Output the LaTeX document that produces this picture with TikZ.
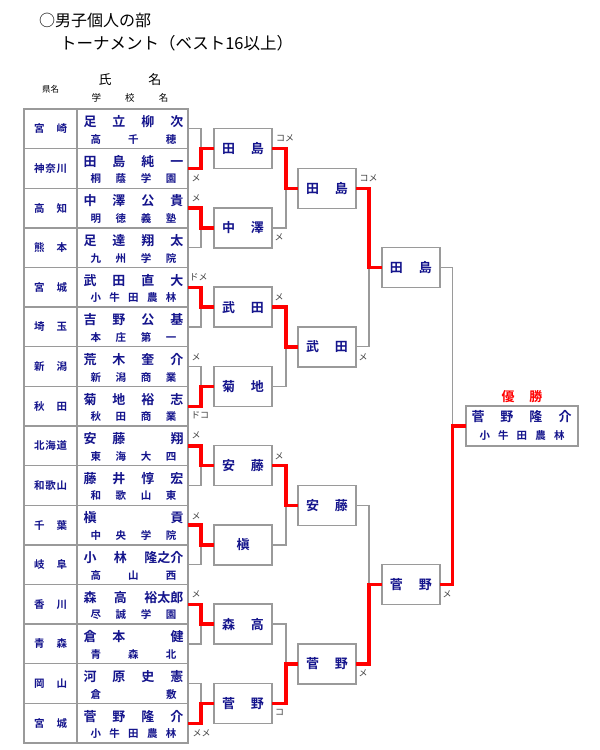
\documentclass[tikz,border=0pt]{standalone}
\usepackage{fontspec}
\setmainfont{Noto Sans CJK JP}[BoldFont={Noto Sans CJK JP Bold}]
\definecolor{ink}{HTML}{14148C}
\definecolor{rule}{HTML}{9A9A9A}

\begin{document}
\begin{tikzpicture}[x=1pt,y=-1pt,
  every node/.style={inner sep=0pt,outer sep=0pt},
  row/.style={draw=rule,line width=1.2pt,minimum width=164pt,minimum height=39.625pt},
  box/.style={draw=rule,line width=1.4pt,minimum width=58pt,minimum height=40pt},
  pref/.style={text=ink,font=\bfseries\fontsize{10.5}{10.5}\selectfont},
  plyr/.style={text=ink,font=\bfseries\fontsize{13}{13}\selectfont},
  school/.style={text=ink,font=\bfseries\fontsize{10.5}{10.5}\selectfont},
  pts/.style={text=black!75,font=\fontsize{9}{9}\selectfont},
  lose/.style={draw=rule,line width=1.3pt},
  win/.style={draw=red,line width=3.4pt}]
\fill[white] (0,0) rectangle (600,750);
\useasboundingbox (0,0) rectangle (600,750);
\node[anchor=west,font=\fontsize{16}{16}\selectfont] (title) at (39,20) {○男子個人の部};
\node[anchor=west,font=\fontsize{16.5}{16.5}\selectfont] (sub) at (60,43) {トーナメント（ベスト16以上）};
\node[font=\fontsize{8.5}{8.5}\selectfont] (hpref) at (50.5,89) {県名};
\node[font=\fontsize{13}{13}\selectfont] (hname) at (130,80) {\makebox[63pt]{氏\hfill 名}};
\node[font=\fontsize{9.5}{9.5}\selectfont] (hschool) at (130,98) {\makebox[77pt]{学\hfill 校\hfill 名}};

\node[row] (r1) at (106,128.8) {};\node[pref] (p1) at (50.7,128.8) {\makebox[33pt]{宮\hfill 崎}};
\node[plyr] (n1) at (133.5,121.7) {\makebox[100pt]{足\hfill 立\hfill 柳\hfill 次}};\node[school] (s1) at (133.5,139.3) {\makebox[86pt]{高\hfill 千\hfill 穂}};
\node[row] (r2) at (106,168.4) {};\node[pref] (p2) at (50.7,168.4) {\makebox[33pt]{神\hfill 奈\hfill 川}};
\node[plyr] (n2) at (133.5,161.3) {\makebox[100pt]{田\hfill 島\hfill 純\hfill 一}};\node[school] (s2) at (133.5,178.9) {\makebox[86pt]{桐\hfill 蔭\hfill 学\hfill 園}};
\node[row] (r3) at (106,208.1) {};\node[pref] (p3) at (50.7,208.1) {\makebox[33pt]{高\hfill 知}};
\node[plyr] (n3) at (133.5,201.0) {\makebox[100pt]{中\hfill 澤\hfill 公\hfill 貴}};\node[school] (s3) at (133.5,218.6) {\makebox[86pt]{明\hfill 徳\hfill 義\hfill 塾}};
\node[row] (r4) at (106,247.7) {};\node[pref] (p4) at (50.7,247.7) {\makebox[33pt]{熊\hfill 本}};
\node[plyr] (n4) at (133.5,240.6) {\makebox[100pt]{足\hfill 達\hfill 翔\hfill 太}};\node[school] (s4) at (133.5,258.2) {\makebox[86pt]{九\hfill 州\hfill 学\hfill 院}};
\node[row] (r5) at (106,287.3) {};\node[pref] (p5) at (50.7,287.3) {\makebox[33pt]{宮\hfill 城}};
\node[plyr] (n5) at (133.5,280.2) {\makebox[100pt]{武\hfill 田\hfill 直\hfill 大}};\node[school] (s5) at (133.5,297.8) {\makebox[86pt]{小\hfill 牛\hfill 田\hfill 農\hfill 林}};
\node[row] (r6) at (106,326.9) {};\node[pref] (p6) at (50.7,326.9) {\makebox[33pt]{埼\hfill 玉}};
\node[plyr] (n6) at (133.5,319.8) {\makebox[100pt]{吉\hfill 野\hfill 公\hfill 基}};\node[school] (s6) at (133.5,337.4) {\makebox[86pt]{本\hfill 庄\hfill 第\hfill 一}};
\node[row] (r7) at (106,366.6) {};\node[pref] (p7) at (50.7,366.6) {\makebox[33pt]{新\hfill 潟}};
\node[plyr] (n7) at (133.5,359.5) {\makebox[100pt]{荒\hfill 木\hfill 奎\hfill 介}};\node[school] (s7) at (133.5,377.1) {\makebox[86pt]{新\hfill 潟\hfill 商\hfill 業}};
\node[row] (r8) at (106,406.2) {};\node[pref] (p8) at (50.7,406.2) {\makebox[33pt]{秋\hfill 田}};
\node[plyr] (n8) at (133.5,399.1) {\makebox[100pt]{菊\hfill 地\hfill 裕\hfill 志}};\node[school] (s8) at (133.5,416.7) {\makebox[86pt]{秋\hfill 田\hfill 商\hfill 業}};
\node[row] (r9) at (106,445.8) {};\node[pref] (p9) at (50.7,445.8) {\makebox[33pt]{北\hfill 海\hfill 道}};
\node[plyr] (n9) at (133.5,438.7) {\makebox[100pt]{安\hfill 藤\hfill \phantom{翔}\hfill 翔}};\node[school] (s9) at (133.5,456.3) {\makebox[86pt]{東\hfill 海\hfill 大\hfill 四}};
\node[row] (r10) at (106,485.4) {};\node[pref] (p10) at (50.7,485.4) {\makebox[33pt]{和\hfill 歌\hfill 山}};
\node[plyr] (n10) at (133.5,478.3) {\makebox[100pt]{藤\hfill 井\hfill 惇\hfill 宏}};\node[school] (s10) at (133.5,495.9) {\makebox[86pt]{和\hfill 歌\hfill 山\hfill 東}};
\node[row] (r11) at (106,525.1) {};\node[pref] (p11) at (50.7,525.1) {\makebox[33pt]{千\hfill 葉}};
\node[plyr] (n11) at (133.5,518.0) {\makebox[100pt]{槇\hfill 貢}};\node[school] (s11) at (133.5,535.6) {\makebox[86pt]{中\hfill 央\hfill 学\hfill 院}};
\node[row] (r12) at (106,564.7) {};\node[pref] (p12) at (50.7,564.7) {\makebox[33pt]{岐\hfill 阜}};
\node[plyr] (n12) at (133.5,557.6) {\makebox[100pt]{小\hfill 林\hfill 隆之介}};\node[school] (s12) at (133.5,575.2) {\makebox[86pt]{高\hfill 山\hfill 西}};
\node[row] (r13) at (106,604.3) {};\node[pref] (p13) at (50.7,604.3) {\makebox[33pt]{香\hfill 川}};
\node[plyr] (n13) at (133.5,597.2) {\makebox[100pt]{森\hfill 高\hfill 裕太郎}};\node[school] (s13) at (133.5,614.8) {\makebox[86pt]{尽\hfill 誠\hfill 学\hfill 園}};
\node[row] (r14) at (106,643.9) {};\node[pref] (p14) at (50.7,643.9) {\makebox[33pt]{青\hfill 森}};
\node[plyr] (n14) at (133.5,636.8) {\makebox[100pt]{倉\hfill 本\hfill \phantom{健}\hfill 健}};\node[school] (s14) at (133.5,654.4) {\makebox[86pt]{青\hfill 森\hfill 北}};
\node[row] (r15) at (106,683.6) {};\node[pref] (p15) at (50.7,683.6) {\makebox[33pt]{岡\hfill 山}};
\node[plyr] (n15) at (133.5,676.5) {\makebox[100pt]{河\hfill 原\hfill 史\hfill 憲}};\node[school] (s15) at (133.5,694.1) {\makebox[86pt]{倉\hfill 敷}};
\node[row] (r16) at (106,723.2) {};\node[pref] (p16) at (50.7,723.2) {\makebox[33pt]{宮\hfill 城}};
\node[plyr] (n16) at (133.5,716.1) {\makebox[100pt]{菅\hfill 野\hfill 隆\hfill 介}};\node[school] (s16) at (133.5,733.7) {\makebox[86pt]{小\hfill 牛\hfill 田\hfill 農\hfill 林}};
\draw[draw=rule,line width=1.2pt] ([xshift=53pt]r1.north west) -- ([xshift=53pt]r16.south west);

\node[box,plyr] (b1) at (243,148.6) {\makebox[42pt]{田\hfill 島}};
\node[box,plyr] (b2) at (243,227.9) {\makebox[42pt]{中\hfill 澤}};
\node[box,plyr] (b3) at (243,307.1) {\makebox[42pt]{武\hfill 田}};
\node[box,plyr] (b4) at (243,386.4) {\makebox[42pt]{菊\hfill 地}};
\node[box,plyr] (b5) at (243,465.6) {\makebox[42pt]{安\hfill 藤}};
\node[box,plyr] (b6) at (243,544.9) {槇};
\node[box,plyr] (b7) at (243,624.1) {\makebox[42pt]{森\hfill 高}};
\node[box,plyr] (b8) at (243,703.4) {\makebox[42pt]{菅\hfill 野}};
\node[box,plyr] (c1) at (327,188.3) {\makebox[42pt]{田\hfill 島}};
\node[box,plyr] (c2) at (327,346.8) {\makebox[42pt]{武\hfill 田}};
\node[box,plyr] (c3) at (327,505.3) {\makebox[42pt]{安\hfill 藤}};
\node[box,plyr] (c4) at (327,663.8) {\makebox[42pt]{菅\hfill 野}};
\node[box,plyr] (d1) at (410.9,267.5) {\makebox[42pt]{田\hfill 島}};
\node[box,plyr] (d2) at (410.9,584.5) {\makebox[42pt]{菅\hfill 野}};
\node[box,minimum width=112pt] (f) at (521.9,426) {};
\node[plyr] (fn) at (521.5,417) {\makebox[100pt]{菅\hfill 野\hfill 隆\hfill 介}};
\node[school] (fs) at (522,436) {\makebox[85pt]{小\hfill 牛\hfill 田\hfill 農\hfill 林}};
\node[plyr,text=red] (champ) at (522,396.7) {\makebox[41pt]{優\hfill 勝}};

\draw[lose] (r1.east) -- ++(13,0) |- (b1.west);\draw[win] (r2.east) -- ++(13,0) |- (b1.west);
\draw[lose] (r4.east) -- ++(13,0) |- (b2.west);\draw[win] (r3.east) -- ++(13,0) |- (b2.west);
\draw[lose] (r6.east) -- ++(13,0) |- (b3.west);\draw[win] (r5.east) -- ++(13,0) |- (b3.west);
\draw[lose] (r7.east) -- ++(13,0) |- (b4.west);\draw[win] (r8.east) -- ++(13,0) |- (b4.west);
\draw[lose] (r10.east) -- ++(13,0) |- (b5.west);\draw[win] (r9.east) -- ++(13,0) |- (b5.west);
\draw[lose] (r12.east) -- ++(13,0) |- (b6.west);\draw[win] (r11.east) -- ++(13,0) |- (b6.west);
\draw[lose] (r14.east) -- ++(13,0) |- (b7.west);\draw[win] (r13.east) -- ++(13,0) |- (b7.west);
\draw[lose] (r15.east) -- ++(13,0) |- (b8.west);\draw[win] (r16.east) -- ++(13,0) |- (b8.west);
\draw[lose] (b2.east) -- ++(14,0) |- (c1.west);\draw[win] (b1.east) -- ++(14,0) |- (c1.west);
\draw[lose] (b4.east) -- ++(14,0) |- (c2.west);\draw[win] (b3.east) -- ++(14,0) |- (c2.west);
\draw[lose] (b6.east) -- ++(14,0) |- (c3.west);\draw[win] (b5.east) -- ++(14,0) |- (c3.west);
\draw[lose] (b7.east) -- ++(14,0) |- (c4.west);\draw[win] (b8.east) -- ++(14,0) |- (c4.west);
\draw[lose] (c2.east) -- ++(13,0) |- (d1.west);\draw[win] (c1.east) -- ++(13,0) |- (d1.west);
\draw[lose] (c3.east) -- ++(13,0) |- (d2.west);\draw[win] (c4.east) -- ++(13,0) |- (d2.west);
\draw[lose] (d1.east) -- ++(12.3,0) |- (f.west);\draw[win] (d2.east) -- ++(12.3,0) |- (f.west);

\node[pts] (m1) at (196,178) {メ};\node[pts] (m2) at (196,198) {メ};
\node[pts] (m3) at (198.5,277) {ドメ};\node[pts] (m4) at (196,357) {メ};
\node[pts] (m5) at (200,415) {ドコ};\node[pts] (m6) at (196,435) {メ};
\node[pts] (m7) at (196,516) {メ};\node[pts] (m8) at (196,594) {メ};
\node[pts] (m9) at (201.5,733) {メメ};
\node[pts] (m10) at (285,138.5) {コメ};\node[pts] (m11) at (279,237.5) {メ};
\node[pts] (m12) at (279,297.5) {メ};\node[pts] (m13) at (279,456) {メ};
\node[pts] (m14) at (279.5,712.5) {コ};
\node[pts] (m15) at (368.5,178) {コメ};\node[pts] (m16) at (363,357) {メ};
\node[pts] (m17) at (363,673.5) {メ};\node[pts] (m18) at (447,594.5) {メ};
\end{tikzpicture}
\end{document}
